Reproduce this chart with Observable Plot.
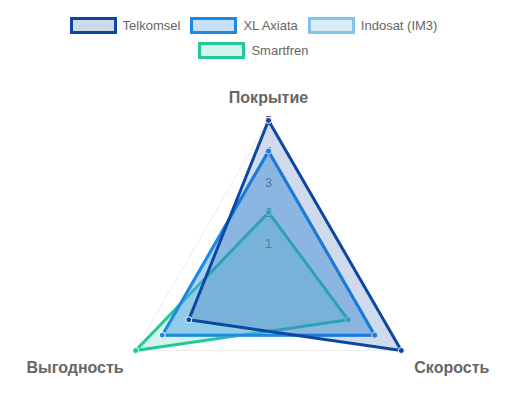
<!DOCTYPE html>
<html>
<head>
<meta charset="utf-8">
<script src="https://cdn.jsdelivr.net/npm/d3@7"></script>
<script src="https://cdn.jsdelivr.net/npm/@observablehq/plot@0.6"></script>
<style>
  html, body { margin: 0; padding: 0; background: #fff; }
  body { width: 523px; height: 419px; overflow: hidden; font-family: "Liberation Sans", Arial, sans-serif; }
  #legend { height: 64px; box-sizing: border-box; padding-top: 17px; padding-right: 16px; }
  .row { display: flex; justify-content: center; align-items: center; height: 17px; margin-bottom: 8px; }
  .item { display: flex; align-items: center; margin: 0 5px; }
  .box { width: 41px; height: 11px; border: 3px solid; margin-right: 6px; }
  .lab { font-size: 13px; color: #666; }
</style>
</head>
<body>
<div id="legend"></div>
<div id="chart"></div>
<script>
// ---- data ----
const axes = ["Покрытие", "Скорость", "Выгодность"];
const operators = ["Telkomsel", "XL Axiata", "Indosat (IM3)", "Smartfren"];
const telkomsel = [5, 5, 3];
const xlAxiata = [4, 4, 4];
const indosat = [4, 4, 4];
const smartfren = [2, 3, 5];
const tickValues = [1, 2, 3, 4, 5];

// ---- styles ----
const colors = {
  "Telkomsel": "#0d47a1",
  "XL Axiata": "#1e88e5",
  "Indosat (IM3)": "#81c4ec",
  "Smartfren": "#20c997"
};
const fillAlpha = {
  "Telkomsel": 0.2,
  "XL Axiata": 0.25,
  "Indosat (IM3)": 0.3,
  "Smartfren": 0.2
};
const valuesBy = {
  "Telkomsel": telkomsel,
  "XL Axiata": xlAxiata,
  "Indosat (IM3)": indosat,
  "Smartfren": smartfren
};

// polar helpers
const ang = i => i * 2 * Math.PI / axes.length;
const px = (i, v) => v * Math.sin(ang(i));
const py = (i, v) => v * Math.cos(ang(i));

function rows(name) {
  return axes.map((a, i) => ({op: name, axis: a, i, v: valuesBy[name][i]}));
}

// ---- legend ----
const legend = document.getElementById("legend");
const legendRows = [operators.slice(0, 3), operators.slice(3)];
legendRows.forEach(r => {
  const row = document.createElement("div");
  row.className = "row";
  r.forEach(op => {
    const it = document.createElement("div");
    it.className = "item";
    const box = document.createElement("div");
    box.className = "box";
    box.style.borderColor = colors[op];
    const c = d3.color(colors[op]); c.opacity = fillAlpha[op];
    box.style.background = c.formatRgb();
    const lab = document.createElement("span");
    lab.className = "lab";
    lab.textContent = op;
    it.appendChild(box); it.appendChild(lab);
    row.appendChild(it);
  });
  legend.appendChild(row);
});

// ---- chart ----
const outer = d3.max(tickValues);
const grid = axes.map((a, i) => ({t: outer, i}));
const font = "Liberation Sans, Arial, sans-serif";

const seriesMarks = [];
// Chart.js draws the last dataset first
[...operators].reverse().forEach(op => {
  const d = rows(op);
  seriesMarks.push(
    Plot.line(d, {
      x: r => px(r.i, r.v), y: r => py(r.i, r.v),
      curve: "linear-closed",
      fill: colors[op], fillOpacity: fillAlpha[op],
      stroke: colors[op], strokeWidth: 3, strokeLinejoin: "miter"
    }),
    Plot.dot(d, {
      x: r => px(r.i, r.v), y: r => py(r.i, r.v),
      r: 3, fill: colors[op], stroke: "#fff", strokeWidth: 1
    })
  );
});

const labelRows = axes.map((a, i) => ({a, i}));

const chart = Plot.plot({
  width: 523,
  height: 355,
  margin: 0,
  x: {domain: [-8.738, 8.315], axis: null},
  y: {domain: [-4.751, 6.825], axis: null},
  style: {fontFamily: font, background: "#fff"},
  marks: [
    Plot.line(grid, {
      x: d => px(d.i, d.t), y: d => py(d.i, d.t),
      curve: "linear-closed", stroke: "rgba(0,0,0,0.08)", strokeWidth: 1
    }),
    Plot.text(tickValues, {
      x: 0, y: d => d, text: d => String(d),
      fill: "#666", fontSize: 12, dy: 1
    }),
    ...seriesMarks,
    Plot.text(labelRows.filter(d => d.i === 0), {
      x: d => px(d.i, outer), y: d => py(d.i, outer), text: "a",
      fill: "#666", fontSize: 16, fontWeight: "bold", textAnchor: "middle", dy: -23
    }),
    Plot.text(labelRows.filter(d => d.i === 1), {
      x: d => px(d.i, outer), y: d => py(d.i, outer), text: "a",
      fill: "#666", fontSize: 16, fontWeight: "bold", textAnchor: "start", dx: 13, dy: 17
    }),
    Plot.text(labelRows.filter(d => d.i === 2), {
      x: d => px(d.i, outer), y: d => py(d.i, outer), text: "a",
      fill: "#666", fontSize: 16, fontWeight: "bold", textAnchor: "end", dx: -12, dy: 17
    })
  ]
});
document.getElementById("chart").appendChild(chart);
</script>
</body>
</html>
